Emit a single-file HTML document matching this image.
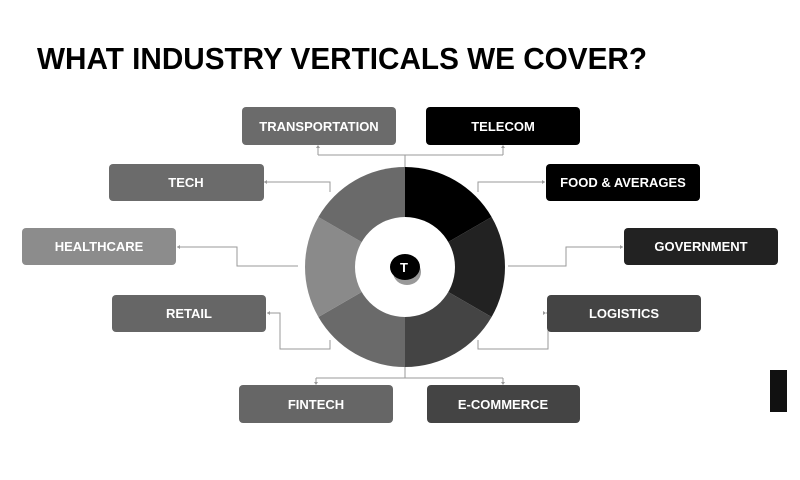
<!DOCTYPE html>
<html><head><meta charset="utf-8"><style>html,body{margin:0;padding:0;background:#fff}svg{display:block}</style></head><body>
<svg width="800" height="480" viewBox="0 0 800 480" xmlns="http://www.w3.org/2000/svg" font-family="Liberation Sans, sans-serif">
<text x="37" y="69" font-size="31" font-weight="bold" fill="#000" textLength="610" lengthAdjust="spacingAndGlyphs">WHAT INDUSTRY VERTICALS WE COVER?</text>
<g stroke="#9a9a9a" stroke-width="1" fill="none">
<path d="M405 167V155M318 155H503M318 155V146M503 155V146"/>
<path d="M330 192V182H264"/>
<path d="M298 266H237V247H177"/>
<path d="M330 340V349H280V313H267"/>
<path d="M478 192V182H545"/>
<path d="M508 266H566V247H623"/>
<path d="M478 340V349H548V313H546"/>
<path d="M405 367V378M316 378H503M316 378V384M503 378V384"/>
</g>
<g fill="#9a9a9a">
<path d="M318 145l-2 3h4z"/><path d="M503 145l-2 3h4z"/>
<path d="M264 182l3-2v4z"/><path d="M177 247l3-2v4z"/><path d="M267 313l3-2v4z"/>
<path d="M545 182l-3-2v4z"/><path d="M623 247l-3-2v4z"/><path d="M546 313l-3-2v4z"/>
<path d="M316 385l-2-3h4z"/><path d="M503 385l-2-3h4z"/>
</g>
<g transform="translate(405 267)">
<path d="M0 -100A100 100 0 0 1 86.6 -50L0 0Z" fill="#000"/>
<path d="M86.6 -50A100 100 0 0 1 86.6 50L0 0Z" fill="#222"/>
<path d="M86.6 50A100 100 0 0 1 0 100L0 0Z" fill="#444"/>
<path d="M0 100A100 100 0 0 1 -86.6 50L0 0Z" fill="#6a6a6a"/>
<path d="M-86.6 50A100 100 0 0 1 -86.6 -50L0 0Z" fill="#8a8a8a"/>
<path d="M-86.6 -50A100 100 0 0 1 0 -100L0 0Z" fill="#6a6a6a"/>
<circle r="50" fill="#fff"/>
<ellipse cx="2" cy="5" rx="14" ry="13" fill="#999"/>
<ellipse cx="0" cy="0" rx="15" ry="13" fill="#000"/>
<text x="-1" y="5" font-size="13" font-weight="bold" fill="#fff" text-anchor="middle">T</text>
</g>
<g font-size="13" font-weight="bold" fill="#fff" text-anchor="middle">
<rect x="242" y="107" width="154" height="38" rx="4" fill="#6b6b6b"/><text x="319" y="131">TRANSPORTATION</text>
<rect x="426" y="107" width="154" height="38" rx="4" fill="#000"/><text x="503" y="131">TELECOM</text>
<rect x="109" y="164" width="155" height="37" rx="4" fill="#6b6b6b"/><text x="186" y="187">TECH</text>
<rect x="546" y="164" width="154" height="37" rx="4" fill="#000"/><text x="623" y="187">FOOD &amp; AVERAGES</text>
<rect x="22" y="228" width="154" height="37" rx="4" fill="#8c8c8c"/><text x="99" y="251">HEALTHCARE</text>
<rect x="624" y="228" width="154" height="37" rx="4" fill="#222"/><text x="701" y="251">GOVERNMENT</text>
<rect x="112" y="295" width="154" height="37" rx="4" fill="#666"/><text x="189" y="318">RETAIL</text>
<rect x="547" y="295" width="154" height="37" rx="4" fill="#444"/><text x="624" y="318">LOGISTICS</text>
<rect x="239" y="385" width="154" height="38" rx="4" fill="#666"/><text x="316" y="409">FINTECH</text>
<rect x="427" y="385" width="153" height="38" rx="4" fill="#444"/><text x="503" y="409">E-COMMERCE</text>
</g>
<rect x="770" y="370" width="17" height="42" fill="#111"/>
</svg>
</body></html>
